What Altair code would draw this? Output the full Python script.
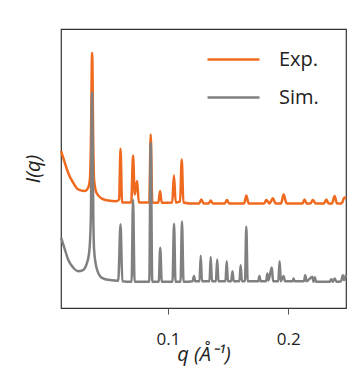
import altair as alt
import pandas as pd

# Experimental pattern (q in 1/Å, intensity in arbitrary units, offset)
exp_q = [0.0111, 0.0142, 0.0169, 0.0211, 0.0252, 0.0308, 0.0336, 0.0350, 0.0358, 0.0369,
         0.0379, 0.0385, 0.0405, 0.0447, 0.0502, 0.0571, 0.0593, 0.0605, 0.0618, 0.0694,
         0.0709, 0.0723, 0.0743, 0.0757, 0.0844, 0.0856, 0.0869, 0.0919, 0.0934, 0.0948,
         0.1035, 0.1049, 0.1064, 0.1100, 0.1114, 0.1128, 0.1180, 0.1259, 0.1277, 0.1297,
         0.1338, 0.1355, 0.1372, 0.1471, 0.1490, 0.1508, 0.1633, 0.1651, 0.1670, 0.1799,
         0.1817, 0.1845, 0.1872, 0.1894, 0.1940, 0.1961, 0.1986, 0.2119, 0.2135, 0.2152,
         0.2185, 0.2204, 0.2227, 0.2297, 0.2316, 0.2335, 0.2364, 0.2385, 0.2405, 0.2443,
         0.2468, 0.2482]
exp_i = [56.2, 52.0, 48.5, 44.9, 42.5, 41.9, 43.1, 46.1, 56.8, 91.4,
         56.8, 46.1, 41.3, 39.3, 38.5, 38.3, 38.9, 57.1, 37.8, 37.8,
         54.7, 40.7, 45.5, 37.8, 37.8, 62.2, 37.8, 37.7, 41.9, 37.7,
         37.8, 47.6, 37.8, 38.2, 53.2, 37.8, 37.5, 37.5, 38.9, 37.5,
         37.5, 38.5, 37.5, 37.5, 38.7, 37.5, 37.5, 40.3, 37.5, 37.5,
         38.7, 37.5, 39.3, 37.5, 37.5, 40.7, 37.5, 37.5, 38.9, 37.5,
         37.5, 38.7, 37.5, 37.5, 38.9, 37.5, 37.5, 40.1, 37.5, 37.5,
         39.6, 39.3]

# Simulated pattern
sim_q = [0.0111, 0.0142, 0.0169, 0.0211, 0.0252, 0.0294, 0.0322, 0.0344, 0.0358, 0.0369,
         0.0379, 0.0385, 0.0405, 0.0447, 0.0516, 0.0586, 0.0605, 0.0620, 0.0697, 0.0709,
         0.0722, 0.0844, 0.0856, 0.0869, 0.0923, 0.0935, 0.0948, 0.1037, 0.1050, 0.1062,
         0.1104, 0.1116, 0.1129, 0.1205, 0.1216, 0.1226, 0.1262, 0.1272, 0.1282, 0.1345,
         0.1355, 0.1365, 0.1398, 0.1409, 0.1419, 0.1478, 0.1488, 0.1498, 0.1525, 0.1536,
         0.1546, 0.1594, 0.1604, 0.1614, 0.1640, 0.1651, 0.1662, 0.1751, 0.1760, 0.1770,
         0.1816, 0.1826, 0.1835, 0.1863, 0.1874, 0.1917, 0.1928, 0.1938, 0.1961, 0.1972,
         0.2036, 0.2044, 0.2052, 0.2131, 0.2141, 0.2152, 0.2199, 0.2210, 0.2221, 0.2231,
         0.2345, 0.2357, 0.2370, 0.2385, 0.2401, 0.2439, 0.2454, 0.2464, 0.2482]
sim_i = [25.2, 21.0, 17.4, 14.5, 13.2, 13.6, 15.6, 19.8, 31.7, 77.2,
         31.7, 21.0, 14.5, 10.9, 10.0, 9.8, 30.0, 9.6, 9.4, 38.9,
         9.4, 9.4, 59.2, 9.4, 9.4, 21.6, 9.4, 9.4, 30.2, 9.4,
         9.4, 31.0, 9.4, 9.6, 11.5, 9.6, 9.6, 18.7, 9.6, 9.6,
         18.3, 9.6, 9.6, 17.4, 9.6, 9.6, 16.8, 9.6, 9.6, 13.2,
         9.6, 9.6, 15.3, 9.6, 9.6, 29.1, 9.6, 9.6, 11.5, 9.6,
         9.6, 12.4, 9.9, 14.5, 9.6, 9.6, 16.8, 9.6, 11.5, 9.6,
         9.6, 10.6, 9.6, 9.6, 11.7, 9.6, 11.2, 9.4, 11.0, 9.4,
         9.4, 10.3, 9.4, 10.6, 9.4, 9.6, 11.7, 10.0, 12.1]

series = ["Exp.", "Sim."]
colors = ["#ef6a1f", "#808080"]

exp_df = pd.DataFrame({"q": exp_q, "I": exp_i, "s": series[0]})
sim_df = pd.DataFrame({"q": sim_q, "I": sim_i, "s": series[1]})

x = alt.X("q:Q", scale=alt.Scale(domain=[0.011, 0.248], nice=False, zero=False),
          axis=alt.Axis(values=[0.1, 0.2], format=".1f", title="q (Å⁻¹)",
                        titleFontStyle="italic", titleFontWeight="normal",
                        titleFontSize=20, labelFontSize=17, tickSize=6,
                        labelPadding=17, titlePadding=-3, domain=False, grid=False,
                        tickColor="#555", labelColor="#222", titleColor="#222",
                        labelFont="Open Sans", titleFont="Open Sans"))
y = alt.Y("I:Q", scale=alt.Scale(domain=[0, 100], nice=False),
          axis=alt.Axis(title="I(q)", titleFontStyle="italic", titleFontWeight="normal",
                        titleFontSize=20, labels=False, ticks=False, domain=False, grid=False,
                        titlePadding=18, titleColor="#222", titleFont="Open Sans"))
color = alt.Color("s:N", scale=alt.Scale(domain=series, range=colors),
                  legend=alt.Legend(title=None, orient="none", legendX=145, legendY=3,
                                    symbolType="stroke", symbolSize=2704,
                                    symbolStrokeWidth=2.5, labelFontSize=20,
                                    labelOffset=18, rowPadding=-1,
                                    labelFont="Open Sans", labelColor="#222"))

exp_line = alt.Chart(exp_df).mark_line(strokeWidth=2.5, strokeJoin="round",
                                       interpolate="monotone").encode(x=x, y=y, color=color)
sim_line = alt.Chart(sim_df).mark_line(strokeWidth=2.5, strokeJoin="round",
                                       interpolate="monotone").encode(x=x, y=y, color=color)

chart = (exp_line + sim_line).properties(
    width=285, height=279,
    padding={"left": 53, "top": 21, "right": 10, "bottom": 61},
    autosize=alt.AutoSizeParams(type="none"),
).configure_view(stroke="#333", strokeWidth=1.2)

chart.save("out.html", embed_options={"renderer": "svg", "actions": False})
